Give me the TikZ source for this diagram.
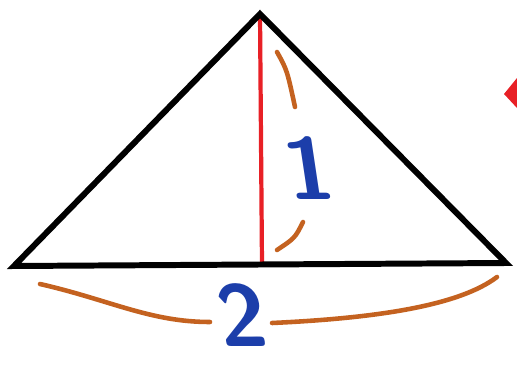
\documentclass[tikz,border=0pt]{standalone}
\usepackage{xcolor}
\usepackage{tikz}
\usetikzlibrary{calc}
\definecolor{brcorange}{RGB}{196,98,32}
\definecolor{numblue}{RGB}{28,62,170}
\definecolor{altred}{RGB}{232,32,38}
\tikzset{
  tri/.style={draw=black, line width=3.4pt, line join=miter},
  alt/.style={draw=altred, line width=2.4pt},
  brc/.style={draw=brcorange, line width=2.6pt, line cap=round},
  num/.style={text=numblue, font=\fontsize{50}{50}\selectfont\sffamily\bfseries, inner sep=0pt, xslant=-0.15},
}
\begin{document}
\begin{tikzpicture}[x=0.02cm, y=-0.02cm]
\useasboundingbox (0,0) rectangle (517,368);
% triangle and its height
\coordinate (A) at (14,266);
\coordinate (B) at (506,263);
\coordinate (C) at (260,14);
\coordinate (H) at (262,265);
\draw[alt] (C) -- (H);
\draw[tri] (A) -- (B) -- (C) -- cycle;
% brace for the height
\coordinate (h1) at (277,52);
\coordinate (h2) at (295,107);
\coordinate (h3) at (303,222);
\coordinate (h4) at (277,250);
\draw[brc] (h1) .. controls (287,70) .. (h2);
\draw[brc] (h3) .. controls (295,238) .. (h4);
\node[num] (one) at (309,168) {1};
% brace for the base
\coordinate (b1) at (40,284);
\coordinate (b2) at (210,322);
\coordinate (b3) at (272,323);
\coordinate (b4) at (497,277);
\draw[brc] (b1) .. controls (110,300) and (150,322) .. (b2);
\draw[brc] (b3) .. controls (380,318) and (460,305) .. (b4);
\node[num] (two) at (242,315) {2};
% mark at the edge
\fill[altred] (504,94) -- (517,78) -- (517,108) -- cycle;
\end{tikzpicture}
\end{document}
